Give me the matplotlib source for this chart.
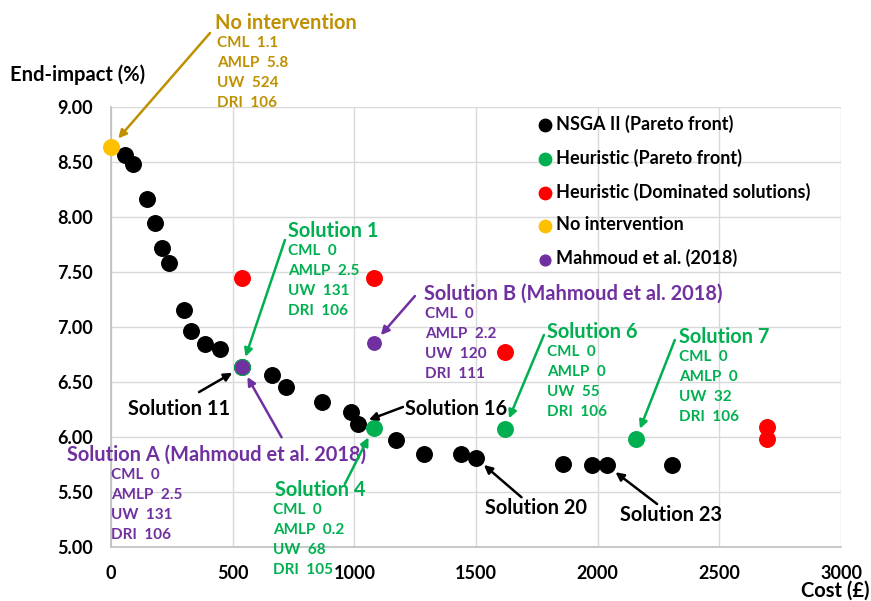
import matplotlib.pyplot as plt

plt.rcParams['font.family'] = ['Lato', 'DejaVu Sans']
plt.rcParams['font.weight'] = 'bold'

# data
nsga_cost = [59, 90, 149, 179, 208, 239, 299, 327, 388, 446, 538, 660, 718, 867,
             987, 1017, 1170, 1288, 1439, 1498, 1858, 1976, 2037, 2306]
nsga_impact = [8.57, 8.48, 8.165, 7.95, 7.72, 7.58, 7.155, 6.96, 6.845, 6.80, 6.633,
               6.56, 6.45, 6.32, 6.23, 6.12, 5.97, 5.845, 5.845, 5.81, 5.75, 5.745,
               5.74, 5.74]
heur_cost = [538, 1079, 1618, 2157]
heur_impact = [6.633, 6.085, 6.075, 5.98]
dom_cost = [538, 1079, 1618, 2696, 2696]
dom_impact = [7.45, 7.45, 6.775, 6.09, 5.98]
noint_cost = [0]
noint_impact = [8.64]
mahm_cost = [538, 1079]
mahm_impact = [6.633, 6.85]

noint_details = ["CML  1.1", "AMLP  5.8", "UW  524", "DRI  106"]
sol1_details = ["CML  0", "AMLP  2.5", "UW  131", "DRI  106"]
solA_details = ["CML  0", "AMLP  2.5", "UW  131", "DRI  106"]
solB_details = ["CML  0", "AMLP  2.2", "UW  120", "DRI  111"]
sol4_details = ["CML  0", "AMLP  0.2", "UW  68", "DRI  105"]
sol6_details = ["CML  0", "AMLP  0", "UW  55", "DRI  106"]
sol7_details = ["CML  0", "AMLP  0", "UW  32", "DRI  106"]

BLACK = 'black'
GREEN = '#00B050'
RED = '#FF0000'
YELLOW = '#FFC000'
PURPLE = '#7030A0'
GOLD = '#BF9000'

fig = plt.figure(figsize=(8.71, 6.01), dpi=100)
ax = fig.add_axes([0.1274, 0.0903, 0.8382, 0.7312])

S = 125
ax.scatter(nsga_cost, nsga_impact, s=S, color=BLACK, zorder=3, label='NSGA II (Pareto front)', clip_on=False)
ax.scatter(heur_cost, heur_impact, s=S, color=GREEN, zorder=4, label='Heuristic (Pareto front)', clip_on=False)
ax.scatter(dom_cost, dom_impact, s=S, color=RED, zorder=4, label='Heuristic (Dominated solutions)', clip_on=False)
ax.scatter(noint_cost, noint_impact, s=S, color=YELLOW, zorder=4, label='No intervention', clip_on=False)
ax.scatter(mahm_cost, mahm_impact, s=S * 0.75, color=PURPLE, zorder=5, label='Mahmoud et al. (2018)', clip_on=False)

ax.set_xlim(0, 3000)
ax.set_ylim(5, 9)
ax.set_xticks(range(0, 3001, 500))
ax.set_yticks([5 + 0.5 * i for i in range(9)])
ax.set_yticklabels([f"{5 + 0.5 * i:.2f}" for i in range(9)])
ax.tick_params(length=0, labelsize=13, pad=13)
ax.grid(color='#D9D9D9', lw=1)
ax.set_axisbelow(True)
for side in ['top', 'right']:
    ax.spines[side].set_visible(False)
for side in ['left', 'bottom']:
    ax.spines[side].set_color('#BFBFBF')
    ax.spines[side].set_linewidth(1.2)

leg = ax.legend(loc='upper left', bbox_to_anchor=(0.572, 1.0), frameon=False,
                fontsize=13, markerscale=0.8, handletextpad=0.1, labelspacing=0.88,
                borderaxespad=0, handlelength=1.0)

fig.text(10 / 871, 1 - 75 / 601, 'End-impact (%)', fontsize=14.5, va='center', ha='left')
fig.text(869 / 871, 1 - 591 / 601, 'Cost (£)', fontsize=14.5, va='center', ha='right')


def block(x, y, title, details, color, xd=None):
    if title:
        ax.text(x, y, title, color=color, fontsize=14.4, va='center', ha='left', clip_on=False, zorder=6)
    if xd is None:
        xd = x
    for i, d in enumerate(details):
        ax.annotate(d, (xd, y), xytext=(0, -14.4 * (i + 1)), textcoords='offset points',
                    color=color, fontsize=11, va='center', ha='left', annotation_clip=False, zorder=6)


def arrow(start, end, color, shrink=8):
    ax.annotate('', xy=end, xytext=start, annotation_clip=False, zorder=6,
                arrowprops=dict(arrowstyle='-|>', color=color, lw=1.8, shrinkA=0,
                                shrinkB=shrink, mutation_scale=12))


block(427, 9.767, 'No intervention', noint_details, GOLD, xd=435)
arrow((407, 9.676), (noint_cost[0], noint_impact[0]), GOLD)

block(727, 7.874, 'Solution 1', sol1_details, GREEN)
arrow((715, 7.792), (heur_cost[0], heur_impact[0]), GREEN)

block(1286, 7.30, 'Solution B (Mahmoud et al. 2018)', solB_details, PURPLE, xd=1290)
arrow((1249, 7.282), (mahm_cost[1], mahm_impact[1]), PURPLE)

block(1791, 6.954, 'Solution 6', sol6_details, GREEN)
arrow((1779, 6.927), (heur_cost[2], heur_impact[2]), GREEN)

block(2333, 6.909, 'Solution 7', sol7_details, GREEN)
arrow((2317, 6.882), (heur_cost[3], heur_impact[3]), GREEN)

block(-181, 5.836, 'Solution A (Mahmoud et al. 2018)', solA_details, PURPLE, xd=0)
arrow((701, 5.996), (mahm_cost[0], mahm_impact[0]), PURPLE)

block(674, 5.516, 'Solution 4', sol4_details, GREEN, xd=665)
arrow((961, 5.571), (heur_cost[1], heur_impact[1]), GREEN)

block(70, 6.254, 'Solution 11', [], BLACK)
arrow((362, 6.408), (nsga_cost[10], nsga_impact[10]), BLACK)

block(1208, 6.254, 'Solution 16', [], BLACK)
arrow((1200, 6.272), (nsga_cost[15], nsga_impact[15]), BLACK)

block(1536, 5.352, 'Solution 20', [], BLACK)
arrow((1687, 5.45), (nsga_cost[19], nsga_impact[19]), BLACK)

block(2091, 5.289, 'Solution 23', [], BLACK)
arrow((2244, 5.389), (nsga_cost[22], nsga_impact[22]), BLACK)

fig.savefig('out.png', dpi=100)
